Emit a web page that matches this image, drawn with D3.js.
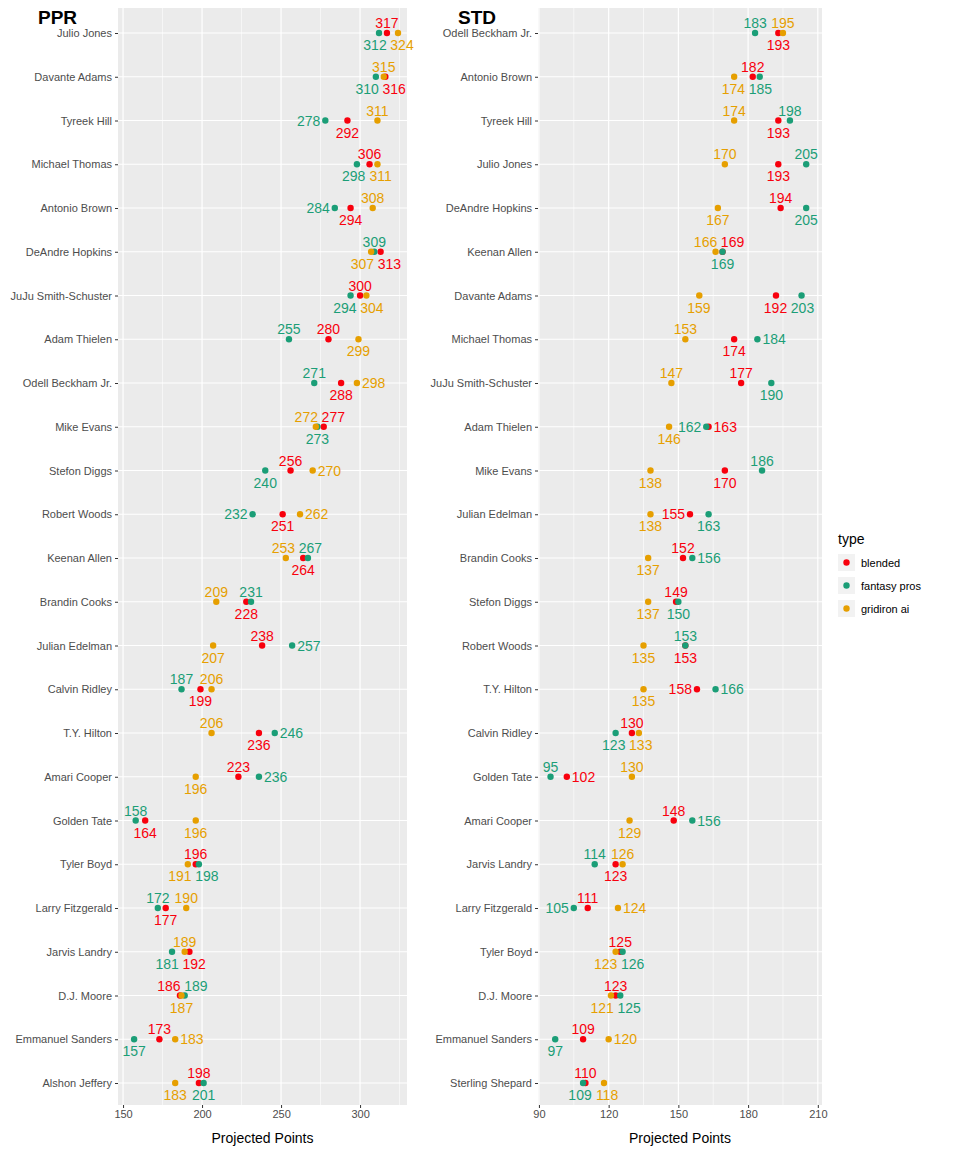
<!DOCTYPE html>
<html lang="en">
<head>
<meta charset="UTF-8">
<title>Projected Points</title>
<script src="https://d3js.org/d3.v7.min.js"></script>
<style>
  body { margin: 0; background: #fff; }
  text { font-family: "Liberation Sans", Arial, sans-serif; }
</style>
</head>
<body>
<script>
// PPR panel
const pprPlayers = ["Julio Jones","Davante Adams","Tyreek Hill","Michael Thomas","Antonio Brown","DeAndre Hopkins","JuJu Smith-Schuster","Adam Thielen","Odell Beckham Jr.","Mike Evans","Stefon Diggs","Robert Woods","Keenan Allen","Brandin Cooks","Julian Edelman","Calvin Ridley","T.Y. Hilton","Amari Cooper","Golden Tate","Tyler Boyd","Larry Fitzgerald","Jarvis Landry","D.J. Moore","Emmanuel Sanders","Alshon Jeffery"];
const pprBlended = [317,316,292,306,294,313,300,280,288,277,256,251,264,228,238,199,236,223,164,196,177,192,186,173,198];
const pprFantasyPros = [312,310,278,298,284,309,294,255,271,273,240,232,267,231,257,187,246,236,158,198,172,181,189,157,201];
const pprGridiron = [324,315,311,311,308,307,304,299,298,272,270,262,253,209,207,206,206,196,196,191,190,189,187,183,183];
// label side per row: blended, fantasy pros, gridiron (a above, b below, l left, r right)
const pprPlace = ["abb","bba","bla","abb","bla","bab","abb","aab","bar","aba","abr","blr","baa","baa","arb","baa","bra","arb","bab","abb","baa","bba","aab","abr","abb"];

// STD panel
const stdPlayers = ["Odell Beckham Jr.","Antonio Brown","Tyreek Hill","Julio Jones","DeAndre Hopkins","Keenan Allen","Davante Adams","Michael Thomas","JuJu Smith-Schuster","Adam Thielen","Mike Evans","Julian Edelman","Brandin Cooks","Stefon Diggs","Robert Woods","T.Y. Hilton","Calvin Ridley","Golden Tate","Amari Cooper","Jarvis Landry","Larry Fitzgerald","Tyler Boyd","D.J. Moore","Emmanuel Sanders","Sterling Shepard"];
const stdBlended = [193,182,193,193,194,169,192,174,177,163,170,155,152,149,153,158,130,102,148,123,111,125,123,109,110];
const stdFantasyPros = [183,185,198,205,205,169,203,184,190,162,186,163,156,150,153,166,123,95,156,114,105,126,125,97,109];
const stdGridiron = [195,174,174,170,167,166,159,153,147,146,138,138,137,137,135,135,133,130,129,126,124,123,121,120,118];
const stdPlace = ["baa","abb","baa","baa","abb","aba","bbb","bra","aba","rlb","bab","lbb","arb","abb","bab","lrb","abb","raa","arb","baa","alr","abb","abb","abr","abb"];

const pprTicks = [150,200,250,300], pprMinor = [175,225,275,325];
const stdTicks = [90,120,150,180,210], stdMinor = [105,135,165,195];

const types = ["blended","fantasy pros","gridiron ai"];
const colors = ["#F8000D","#1B9E77","#E69F00"];

const svg = d3.select("body").append("svg").attr("width",960).attr("height",1152);

function panel(title, players, series, place, ticks, minor, domain, x0, x1) {
  const top = 8, bottom = 1105;
  const x = d3.scaleLinear().domain(domain).range([x0, x1]);
  const y = d3.scalePoint().domain(players).range([33, 1083]);
  const g = svg.append("g");
  g.append("rect").attr("x",x0).attr("y",top).attr("width",x1-x0).attr("height",bottom-top).attr("fill","#EBEBEB");
  g.selectAll(".mn").data(minor).join("line")
    .attr("x1",d=>x(d)).attr("x2",d=>x(d)).attr("y1",top).attr("y2",bottom)
    .attr("stroke","#fff").attr("stroke-width",0.6);
  g.selectAll(".mj").data(ticks).join("line")
    .attr("x1",d=>x(d)).attr("x2",d=>x(d)).attr("y1",top).attr("y2",bottom)
    .attr("stroke","#fff").attr("stroke-width",1.2);
  g.selectAll(".hr").data(players).join("line")
    .attr("x1",x0).attr("x2",x1).attr("y1",d=>y(d)).attr("y2",d=>y(d))
    .attr("stroke","#fff").attr("stroke-width",1.2);

  const ax = g.append("g").attr("transform",`translate(0,${bottom})`)
    .call(d3.axisBottom(x).tickValues(ticks).tickSize(3).tickPadding(2));
  ax.select(".domain").remove();
  ax.selectAll("line").attr("stroke","#333");
  ax.selectAll("text").attr("fill","#4D4D4D").attr("font-size",11);
  const ay = g.append("g").attr("transform",`translate(${x0},0)`)
    .call(d3.axisLeft(y).tickSize(3).tickPadding(3));
  ay.select(".domain").remove();
  ay.selectAll("line").attr("stroke","#333");
  ay.selectAll("text").attr("fill","#4D4D4D").attr("font-size",11);

  g.append("text").attr("x",(x0+x1)/2).attr("y",1143).attr("text-anchor","middle")
    .attr("font-size",14).text("Projected Points");
  g.append("text").attr("x",x0-80).attr("y",24).attr("font-size",19).attr("font-weight","bold").text(title);

  // all points with label placement
  const pts = [];
  series.forEach((vals, k) => players.forEach((p,i) => pts.push({p, k, v: vals[i], side: place[i][k], i})));
  pts.forEach(d => { d.lx = x(d.v) + (d.side==="l" ? -5 : d.side==="r" ? 5 : 0); });
  // simple horizontal repel for labels stacked above / below the same row
  d3.group(pts.filter(d => d.side==="a" || d.side==="b"), d => d.i + d.side).forEach(grp => {
    grp.sort((a,b) => a.lx - b.lx);
    const w = d => String(d.v).length * 8 + 3;
    const orig = grp.map(d => d.lx);
    for (let j = 1; j < grp.length; j++) {
      const minX = grp[j-1].lx + (w(grp[j-1]) + w(grp[j])) / 2;
      if (grp[j].lx < minX) grp[j].lx = minX;
    }
    const shift = d3.mean(grp, (d,j) => d.lx - orig[j]);
    grp.forEach(d => d.lx -= shift);
  });

  g.selectAll(".pt").data(pts).join("circle")
    .attr("cx",d=>x(d.v)).attr("cy",d=>y(d.p)).attr("r",3.2).attr("fill",d=>colors[d.k]);
  g.selectAll(".lb").data(pts).join("text")
    .attr("x",d=>d.lx)
    .attr("y",d=>y(d.p) + (d.side==="a" ? -5 : d.side==="b" ? 17 : 5))
    .attr("text-anchor",d=>d.side==="l" ? "end" : d.side==="r" ? "start" : "middle")
    .attr("font-size",14).attr("fill",d=>colors[d.k]).text(d=>d.v);
}

panel("PPR", pprPlayers, [pprBlended,pprFantasyPros,pprGridiron], pprPlace, pprTicks, pprMinor, [146.8,329.7], 118, 407);
panel("STD", stdPlayers, [stdBlended,stdFantasyPros,stdGridiron], stdPlace, stdTicks, stdMinor, [89.6,211.8], 538, 822);

const lg = svg.append("g").attr("transform","translate(838,530)");
lg.append("text").attr("x",0).attr("y",14).attr("font-size",14).text("type");
types.forEach((t,i)=>{
  const row = lg.append("g").attr("transform",`translate(0,${24+i*23})`);
  row.append("rect").attr("width",17).attr("height",17).attr("fill","#F2F2F2");
  row.append("circle").attr("cx",8.5).attr("cy",8.5).attr("r",3.2).attr("fill",colors[i]);
  row.append("text").attr("x",23).attr("y",13).attr("font-size",11).text(t);
});
</script>
</body>
</html>
